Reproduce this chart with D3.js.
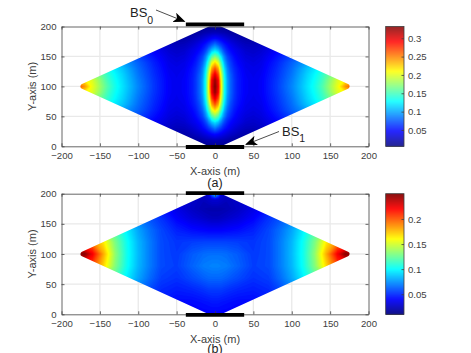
<!DOCTYPE html>
<html>
<head>
<meta charset="utf-8">
<script src="https://cdn.jsdelivr.net/npm/d3@7"></script>
<style>
html, body { margin: 0; padding: 0; background: #fff; overflow: hidden; }
text { font-family: "Liberation Sans", Arial, sans-serif; }
</style>
</head>
<body>
<div id="chart"></div>
<script>
// axis ticks
var xTicks = [-200, -150, -100, -50, 0, 50, 100, 150, 200];
var yTicks = [0, 50, 100, 150, 200];

// coverage area corners and base station bars (metres)
var areaX = [-172, 0, 172, 0];
var areaY = [100, 200, 100, 0];
var bsX = [-38, 38];

// jet colormap
var jetStops = [0, 0.125, 0.375, 0.625, 0.875, 1];
var jetColors = ["#000080", "#0000ff", "#00ffff", "#ffff00", "#ff0000", "#800000"];

// panel (a): values, x >= 0 and y >= 100, mirrored when drawn
var colorRangeA = [0.0055, 0.332];
var colorTicksA = [0.05, 0.1, 0.15, 0.2, 0.25, 0.3];
var columnsA = [0, 4, 8, 12, 16, 20, 25, 30, 40, 50, 60, 80, 100, 120, 130, 140, 150, 160, 170, 178];
var rowsA = [200, 190, 180, 170, 160, 150, 140, 130, 120, 110, 100];
var valuesA = [
    [.012, .012, .012, .012, .012, .012, .012, .012, .012, .012, .012, .012, .012, .012, .012, .012, .012, .012, .012, .012],
    [.025, .024, .023, .022, .020, .018, .017, .016, .015, .015, .016, .018, .020, .020, .020, .020, .020, .020, .020, .020],
    [.050, .047, .043, .038, .034, .030, .027, .024, .020, .019, .022, .028, .032, .034, .034, .034, .034, .034, .034, .034],
    [.085, .075, .065, .055, .048, .042, .036, .032, .026, .025, .028, .038, .048, .055, .055, .055, .055, .055, .055, .055],
    [.120, .110, .090, .070, .058, .050, .044, .040, .032, .030, .033, .046, .060, .070, .075, .075, .075, .075, .075, .075],
    [.170, .155, .120, .090, .070, .060, .050, .044, .036, .034, .037, .052, .070, .085, .095, .100, .100, .100, .100, .100],
    [.220, .200, .150, .105, .080, .067, .055, .048, .040, .037, .040, .057, .078, .100, .110, .120, .125, .125, .125, .125],
    [.265, .240, .175, .120, .090, .072, .060, .052, .042, .040, .042, .060, .082, .110, .122, .135, .150, .155, .155, .155],
    [.300, .270, .195, .130, .095, .078, .063, .054, .044, .041, .044, .062, .085, .115, .128, .145, .165, .180, .185, .185],
    [.325, .295, .205, .135, .100, .080, .065, .055, .045, .042, .045, .064, .088, .118, .132, .150, .175, .200, .215, .220],
    [.332, .300, .210, .135, .100, .080, .065, .055, .045, .042, .045, .065, .090, .120, .135, .155, .180, .205, .245, .270]
];

// panel (b): values, x >= 0, mirrored when drawn
var colorRangeB = [0.01, 0.2504];
var colorTicksB = [0.05, 0.1, 0.15, 0.2];
var columnsB = [0, 4, 8, 15, 30, 50, 70, 85, 100, 115, 130, 145, 160, 170, 178];
var rowsB = [200, 196, 190, 175, 160, 140, 120, 100, 80, 60, 40, 20, 0];
var valuesB = [
    [.085, .070, .035, .025, .030, .030, .030, .030, .030, .030, .030, .030, .030, .030, .030],
    [.070, .055, .032, .025, .030, .030, .030, .030, .030, .030, .030, .030, .030, .030, .030],
    [.030, .030, .028, .025, .028, .033, .040, .040, .040, .040, .040, .040, .040, .040, .040],
    [.022, .022, .022, .023, .027, .035, .045, .050, .055, .055, .055, .055, .055, .055, .055],
    [.025, .025, .026, .028, .032, .040, .052, .060, .070, .080, .090, .090, .090, .090, .090],
    [.040, .040, .040, .041, .043, .048, .057, .067, .080, .098, .120, .140, .140, .140, .140],
    [.056, .056, .056, .056, .055, .053, .058, .070, .084, .104, .130, .165, .190, .190, .190],
    [.067, .067, .067, .066, .062, .054, .058, .070, .085, .105, .135, .180, .225, .250, .250],
    [.072, .072, .071, .070, .064, .055, .058, .070, .084, .104, .132, .170, .205, .205, .205],
    [.065, .065, .065, .063, .058, .052, .055, .066, .080, .098, .120, .140, .140, .140, .140],
    [.054, .054, .054, .052, .049, .047, .050, .058, .070, .080, .090, .090, .090, .090, .090],
    [.046, .046, .045, .044, .042, .042, .046, .050, .055, .055, .055, .055, .055, .055, .055],
    [.040, .040, .040, .040, .040, .040, .040, .040, .040, .040, .040, .040, .040, .040, .040]
];

var width = 471, height = 353;
var left = 61.5, right = 368.5;
var barLeft = 385.7, barRight = 404;
var axisColor = "#404040";

var svg = d3.select("#chart").append("svg")
    .attr("width", width)
    .attr("height", height)
    .style("display", "block");

var defs = svg.append("defs");

var arrowMarker = defs.append("marker")
    .attr("id", "arrow")
    .attr("viewBox", "0 0 12 10")
    .attr("refX", 11)
    .attr("refY", 5)
    .attr("markerWidth", 12)
    .attr("markerHeight", 10)
    .attr("markerUnits", "userSpaceOnUse")
    .attr("orient", "auto");
arrowMarker.append("path").attr("d", "M0,0L12,5L0,10L3,5Z").attr("fill", "#000");

// the table only holds one side, so mirror it into the full grid
function mirrorColumns(cols) {
    var neg = cols.slice(1).reverse().map(function (c) { return -c; });
    return neg.concat(cols);
}
function mirrorRow(row) {
    return row.slice(1).reverse().concat(row);
}

function drawPanel(p) {
    var x = d3.scaleLinear().domain([-200, 200]).range([left, right]);
    var y = d3.scaleLinear().domain([0, 200]).range([p.bottom, p.top]);
    var g = svg.append("g");

    // grid under the heat map
    g.append("g").selectAll("line").data(xTicks.slice(1, -1)).enter().append("line")
        .attr("x1", function (d) { return x(d); }).attr("x2", function (d) { return x(d); })
        .attr("y1", p.top).attr("y2", p.bottom)
        .attr("stroke", "#e9e9e9").attr("stroke-width", 1.3);
    g.append("g").selectAll("line").data(yTicks.slice(1, -1)).enter().append("line")
        .attr("y1", function (d) { return y(d); }).attr("y2", function (d) { return y(d); })
        .attr("x1", left).attr("x2", right)
        .attr("stroke", "#e9e9e9").attr("stroke-width", 1.3);

    // clip to the axes box, mask to the rounded diamond
    defs.append("clipPath").attr("id", "box" + p.name).append("rect")
        .attr("x", left).attr("y", p.top).attr("width", right - left).attr("height", p.bottom - p.top);
    var corners = areaX.map(function (d, i) { return x(d) + "," + y(areaY[i]); }).join(" ");
    defs.append("mask").attr("id", "area" + p.name)
        .attr("maskUnits", "userSpaceOnUse")
        .attr("x", 0).attr("y", 0).attr("width", width).attr("height", height)
        .append("polygon")
        .attr("points", corners)
        .attr("fill", "#fff").attr("stroke", "#fff")
        .attr("stroke-width", 5).attr("stroke-linejoin", "round");

    var color = d3.scaleLinear()
        .domain(jetStops.map(function (t) { return p.range[0] + t * (p.range[1] - p.range[0]); }))
        .range(jetColors)
        .clamp(true);

    var cols = mirrorColumns(p.columns);
    var gridValues = [];
    p.values.forEach(function (row) { gridValues = gridValues.concat(mirrorRow(row)); });

    // contours work in grid indices, these scales take them back to metres
    var colIndex = d3.scaleLinear().domain(d3.range(cols.length)).range(cols);
    var rowIndex = d3.scaleLinear().domain(d3.range(p.rows.length)).range(p.rows);
    var project = d3.geoTransform({
        point: function (a, b) {
            this.stream.point(x(colIndex(a - 0.5)), y(rowIndex(b - 0.5)));
        }
    });
    var path = d3.geoPath(project);

    var levels = d3.range(0, 140).map(function (i) {
        return p.range[0] + (i + 0.5) / 140 * (p.range[1] - p.range[0]);
    });
    var bands = d3.contours().size([cols.length, p.rows.length]).thresholds(levels)(gridValues);

    var heat = g.append("g").attr("clip-path", "url(#box" + p.name + ")")
        .append("g").attr("mask", "url(#area" + p.name + ")");
    heat.append("rect")
        .attr("x", left).attr("y", p.top - 5)
        .attr("width", right - left).attr("height", p.bottom - p.top + 10)
        .attr("fill", color(p.range[0]));
    heat.selectAll("path").data(bands).enter().append("path")
        .attr("d", path)
        .attr("fill", function (d) { return color(d.value); });

    // box and ticks on all four sides
    g.append("g").attr("transform", "translate(0," + p.bottom + ")")
        .call(d3.axisBottom(x).tickValues(xTicks).tickSizeInner(-3).tickSizeOuter(0).tickPadding(6));
    g.append("g").attr("transform", "translate(" + left + ",0)")
        .call(d3.axisLeft(y).tickValues(yTicks).tickSizeInner(-3).tickSizeOuter(0).tickPadding(5));
    g.append("g").attr("transform", "translate(0," + p.top + ")")
        .call(d3.axisTop(x).tickValues(xTicks).tickSizeInner(-3).tickSizeOuter(0).tickFormat(""));
    g.append("g").attr("transform", "translate(" + right + ",0)")
        .call(d3.axisRight(y).tickValues(yTicks).tickSizeInner(-3).tickSizeOuter(0).tickFormat(""));
    g.selectAll(".domain, .tick line").attr("stroke", axisColor).attr("stroke-width", 0.8);
    g.selectAll(".tick text").attr("fill", axisColor).style("font-size", "9.6px").style("font-family", '"Liberation Sans", Arial, sans-serif');

    // axis titles
    g.append("text").attr("x", (left + right) / 2).attr("y", p.bottom + 28.5)
        .attr("text-anchor", "middle").attr("fill", axisColor).style("font-size", "11px")
        .text("X-axis (m)");
    g.append("text")
        .attr("transform", "translate(36," + (p.top + p.bottom) / 2 + ") rotate(-90)")
        .attr("text-anchor", "middle").attr("fill", axisColor).style("font-size", "11px")
        .text("Y-axis (m)");

    // base station bars
    [p.bsTop, p.bsBottom].forEach(function (by) {
        g.append("line")
            .attr("x1", x(bsX[0])).attr("x2", x(bsX[1]))
            .attr("y1", y(by)).attr("y2", y(by))
            .attr("stroke", "#000").attr("stroke-width", 3.8);
    });

    // panel caption
    g.append("text").attr("x", x(0)).attr("y", p.captionY)
        .attr("text-anchor", "middle").attr("fill", "#222").style("font-size", "12.5px")
        .text(p.caption);

    // colorbar
    var barScale = d3.scaleLinear().domain(p.range).range([p.bottom, p.top]);
    var bar = svg.append("g");
    bar.selectAll("rect").data(d3.range(p.top, p.bottom, 1)).enter().append("rect")
        .attr("x", barLeft).attr("y", function (d) { return d; })
        .attr("width", barRight - barLeft).attr("height", 1.2)
        .attr("fill", function (d) { return color(barScale.invert(d + 0.5)); });
    bar.append("rect")
        .attr("x", barLeft).attr("y", p.top)
        .attr("width", barRight - barLeft).attr("height", p.bottom - p.top)
        .attr("fill", "none").attr("stroke", axisColor).attr("stroke-width", 0.8);
    var barAxis = bar.append("g").attr("transform", "translate(" + barRight + ",0)")
        .call(d3.axisRight(barScale).tickValues(p.colorTicks).tickFormat(d3.format("~g"))
            .tickSizeInner(-2.5).tickSizeOuter(0).tickPadding(4));
    barAxis.select(".domain").remove();
    barAxis.selectAll(".tick line").attr("stroke", axisColor).attr("stroke-width", 0.8);
    barAxis.selectAll(".tick text").attr("fill", axisColor).style("font-size", "9.6px").style("font-family", '"Liberation Sans", Arial, sans-serif');
}

drawPanel({
    name: "A", top: 26.5, bottom: 146.3,
    range: colorRangeA, colorTicks: colorTicksA,
    columns: columnsA,
    rows: rowsA.concat(rowsA.slice(0, -1).reverse().map(function (r) { return 200 - r; })),
    values: valuesA.concat(valuesA.slice(0, -1).reverse()),
    bsTop: 203.6, bsBottom: -1.2, caption: "(a)", captionY: 187
});
drawPanel({
    name: "B", top: 193.7, bottom: 314.3,
    range: colorRangeB, colorTicks: colorTicksB,
    columns: columnsB, rows: rowsB, values: valuesB,
    bsTop: 200.8, bsBottom: -1, caption: "(b)", captionY: 353
});

// BS labels with their arrows
function bsLabel(tx, ty, sub, x1, y1, x2, y2) {
    var label = svg.append("text").attr("x", tx).attr("y", ty).attr("fill", "#222").style("font-size", "13px");
    label.append("tspan").text("BS");
    label.append("tspan").attr("dy", 6.5).style("font-size", "10.5px").text(sub);
    svg.append("line")
        .attr("x1", x1).attr("y1", y1).attr("x2", x2).attr("y2", y2)
        .attr("stroke", "#000").attr("stroke-width", 0.7)
        .attr("marker-end", "url(#arrow)");
}
bsLabel(130, 17, "0", 156, 10, 184.5, 21.5);
bsLabel(282, 135.5, "1", 279, 131.5, 246, 144.5);
</script>
</body>
</html>
